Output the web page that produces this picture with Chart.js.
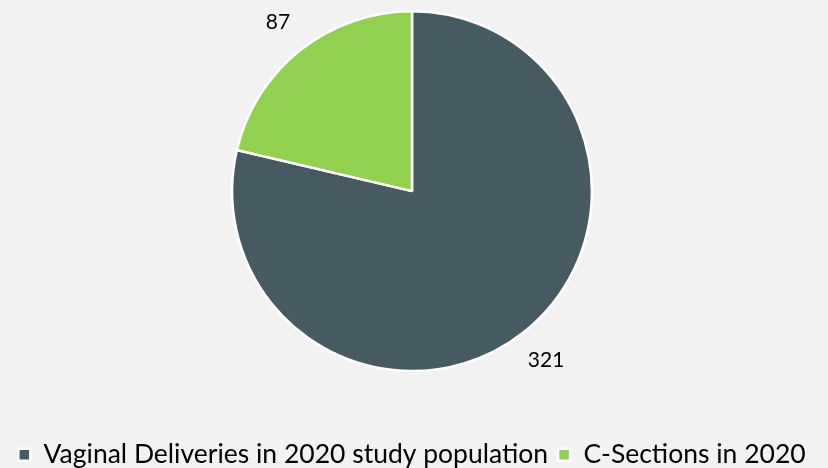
<!DOCTYPE html>
<html>
<head>
<meta charset="utf-8">
<script src="https://cdn.jsdelivr.net/npm/chart.js@4/dist/chart.umd.min.js"></script>
<style>
  html, body { margin: 0; padding: 0; background: #f2f2f2; }
  #wrap { width: 828px; height: 468px; }
</style>
</head>
<body>
<div id="wrap"><canvas id="chart"></canvas></div>
<script>
const labels = ["Vaginal Deliveries in 2020 study population", "C-Sections in 2020"];
const values = [321, 87];
const colors = ["#475a61", "#92d050"];

// rótulos de valor fora da pizza
const valueLabels = {
    id: "valueLabels",
    afterDatasetsDraw(chart) {
        const ctx = chart.ctx;
        const meta = chart.getDatasetMeta(0);
        ctx.save();
        ctx.font = "21px Lato";
        ctx.fillStyle = "#000";
        ctx.textAlign = "center";
        ctx.textBaseline = "middle";
        meta.data.forEach((arc, i) => {
            const mid = (arc.startAngle + arc.endAngle) / 2;
            const r = arc.outerRadius * 1.2;
            ctx.fillText(values[i], arc.x + Math.cos(mid) * r, arc.y + Math.sin(mid) * r);
        });
        ctx.restore();
    }
};

new Chart(document.getElementById("chart"), {
    type: "pie",
    data: {
        labels: labels,
        datasets: [{
            data: values,
            backgroundColor: colors,
            borderColor: "#ffffff",
            borderWidth: 2.5
        }]
    },
    options: {
        responsive: true,
        maintainAspectRatio: false,
        animation: false,
        layout: { padding: { top: 10, bottom: -10, left: 0, right: 4 } },
        plugins: {
            legend: {
                position: "bottom",
                title: { display: true, text: "", font: { size: 1 }, padding: { top: 58, bottom: 0 } },
                labels: {
                    font: { family: "Lato", size: 26.5 },
                    color: "#000",
                    boxWidth: 12,
                    boxHeight: 12,
                    padding: 10
                }
            },
            tooltip: { enabled: false }
        }
    },
    plugins: [valueLabels]
});
</script>
</body>
</html>
